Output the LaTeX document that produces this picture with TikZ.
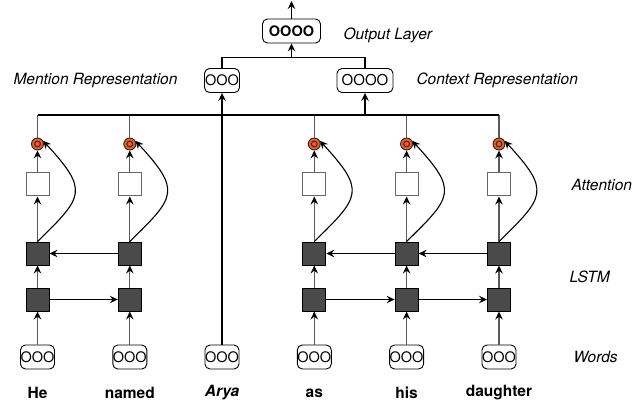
\documentclass[tikz,border=0pt]{standalone}
\usepackage{fontspec}
\setmainfont{TeX Gyre Heros}
\usetikzlibrary{arrows.meta}
\definecolor{lstmfill}{HTML}{4A4A4A}
\definecolor{attnfill}{HTML}{F05A24}

\begin{document}
\begin{tikzpicture}[x=1pt,y=-1pt,
  every node/.style={font=\fontsize{15.5}{18}\selectfont},
  vec/.style={draw=black, rounded corners=5pt, minimum height=24pt, inner sep=0pt,
    font=\fontsize{14.5}{15}\selectfont, line width=0.9pt},
  lstmcell/.style={draw=black, fill=lstmfill, minimum size=23pt, inner sep=0pt, line width=1pt},
  attnbox/.style={draw=black!60, fill=white, minimum size=23pt, inner sep=0pt, line width=1pt},
  attnpt/.style={circle, draw=black!85, fill=attnfill, minimum size=12pt, inner sep=0pt,
    line width=0.9pt,
    path picture={\draw[black!85, line width=0.9pt] (path picture bounding box.center) circle (2.9pt);}},
  link/.style={line width=1.1pt, -{Stealth[length=8pt,width=7.5pt,inset=2.8pt,black]}},
  vlink/.style={link, draw=black!65},
  plain/.style={line width=1.1pt, draw=black},
  vplain/.style={line width=1.1pt, draw=black!65},
  tag/.style={anchor=west, font=\fontsize{15.5}{18}\selectfont\itshape},
  word/.style={font=\fontsize{15.5}{18}\selectfont\bfseries},
]
\useasboundingbox (0,0) rectangle (635,409);

% word columns with bidirectional LSTM and attention
\foreach \i/\x/\w in {1/37.5/He, 2/129.8/named, 4/314.3/as, 5/406.6/his, 6/499/daughter}{
  \node[vec, minimum width=34pt] (w\i) at (\x,357) {OOO};
  \node[lstmcell] (f\i) at (\x,299.5) {};
  \node[lstmcell] (b\i) at (\x,253.5) {};
  \node[attnbox] (a\i) at (\x,184.5) {};
  \node[attnpt] (p\i) at (\x,144) {};
  \node[word] (t\i) at (\x,393) {\w};
  \draw[vlink] (w\i.north) -- (f\i.south);
  \draw[vlink] (f\i.north) -- (b\i.south);
  \draw[vlink] (b\i.north) -- (a\i.south);
  \draw[vlink] (a\i.north) -- (p\i.south);
  \draw[link] (b\i.north) .. controls +(46,-45) and +(46,50) .. (p\i.30);
}

% mention word
\node[vec, minimum width=34pt] (w3) at (222,357) {OOO};
\node[font=\fontsize{15.5}{18}\selectfont\bfseries\itshape] (t3) at (222,393) {Arya};

% recurrent connections
\draw[link] (f1.east) -- (f2.west);
\draw[link] (f4.east) -- (f5.west);
\draw[link] (f5.east) -- (f6.west);
\draw[link] (b2.west) -- (b1.east);
\draw[link] (b5.west) -- (b4.east);
\draw[link] (b6.west) -- (b5.east);

% representations and output
\node[vec, minimum width=35pt] (men) at (222,80.5) {OOO};
\node[vec, minimum width=56pt, font=\fontsize{15}{15}\selectfont] (ctx) at (365,80.5) {OOOO};
\node[vec, minimum width=58pt, font=\fontsize{14.5}{15}\selectfont\bfseries] (out) at (291.5,31) {OOOO};
\coordinate (busL) at (37.5,115);
\coordinate (busR) at (499,115);
\coordinate (jmid) at (291.5,57.5);
\coordinate (outtip) at (291.5,1);

% context bus from attention points
\foreach \i in {1,2,4,5,6}{
  \draw[vplain] (p\i.north) -- (p\i |- busL);
}
\draw[plain] (busL) -- (busR);
\draw[link] (ctx |- busL) -- (ctx.south);
\draw[link] (w3.north) -- (men.south);

\draw[plain] (men.north) |- (jmid) -| (ctx.north);
\draw[link] (jmid) -- (out.south);
\draw[link] (out.north) -- (outtip);

% layer labels
\node[tag] at (340,35) {Output Layer};
\node[tag] at (10,80.5) {Mention Representation};
\node[tag] at (413,80.5) {Context Representation};
\node[tag] at (568,185) {Attention};
\node[tag] at (566,277) {LSTM};
\node[tag] at (570,357) {Words};
\end{tikzpicture}
\end{document}
